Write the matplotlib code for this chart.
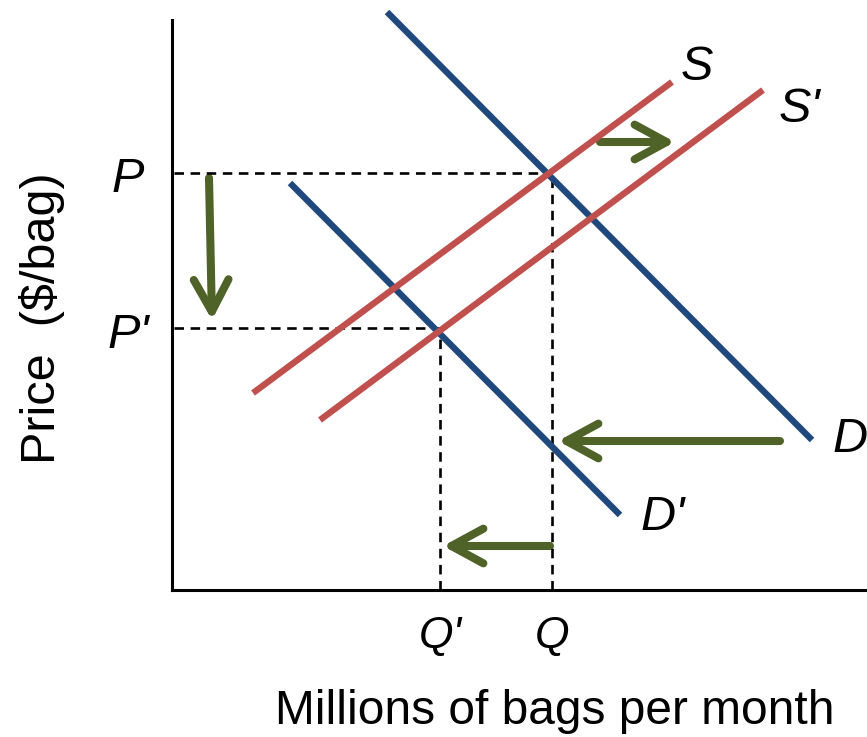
import matplotlib.pyplot as plt
from matplotlib.patches import FancyArrowPatch

plt.rcParams['font.family'] = ['Liberation Sans', 'DejaVu Sans']

# curve end points (quantity, price) in chart units
demand_q = [215, 640]
demand_p = [578, 150]
demand2_q = [118, 448]
demand2_p = [407, 75]
supply_q = [81, 500]
supply_p = [197, 508]
supply2_q = [148, 591]
supply2_p = [170, 500]

# equilibrium values
P, P2 = 417, 262
Q, Q2 = 380, 268

# shift arrows: (start, end)
arrows = [
    ((37, 412), (40, 270)),    # price falls
    ((428, 448), (503, 448)),  # supply shifts right
    ((608, 149), (386, 149)),  # demand shifts left
    ((378, 44), (271, 44)),    # quantity falls
]

# curve labels
curve_labels = ['S', "S'", 'D', "D'"]
curve_label_pos = [(525, 523), (607, 480), (660, 150), (469, 73)]

blue = '#1f497d'
red = '#c0504d'
green = '#4f6228'

fig = plt.figure(figsize=(8.67, 7.37), dpi=100)
ax = fig.add_axes([172 / 867, 147 / 737, 695 / 867, 580 / 737])
ax.set_xlim(0, 695)
ax.set_ylim(0, 580)
ax.patch.set_visible(False)

for side in ['top', 'right']:
    ax.spines[side].set_visible(False)
ax.spines['left'].set_bounds(0, 570)
ax.spines['left'].set_linewidth(2.2)
ax.spines['bottom'].set_linewidth(2.2)
ax.set_xticks([])
ax.set_yticks([])

# dashed guide lines
dash = dict(color='black', lw=1.9, dashes=(3.6, 2.5))
ax.plot([2, Q], [P, P], **dash)
ax.plot([Q, Q], [0, P], **dash)
ax.plot([2, Q2], [P2, P2], **dash)
ax.plot([Q2, Q2], [0, P2], **dash)

# curves
ax.plot(demand_q, demand_p, color=blue, lw=4.6, solid_capstyle='butt')
ax.plot(demand2_q, demand2_p, color=blue, lw=4.6, solid_capstyle='butt')
ax.plot(supply_q, supply_p, color=red, lw=4.6, solid_capstyle='butt')
ax.plot(supply2_q, supply2_p, color=red, lw=4.6, solid_capstyle='butt')

# shift arrows
for start, end in arrows:
    arr = FancyArrowPatch(start, end, arrowstyle='->,head_length=2.3,head_width=1.25',
                          mutation_scale=10, color=green, lw=5.8,
                          capstyle='round', joinstyle='round', shrinkA=0, shrinkB=0)
    ax.add_patch(arr)

# curve labels
for lab, (x, y) in zip(curve_labels, curve_label_pos):
    ha = 'center' if lab == 'S' else 'left'
    ax.text(x, y, lab, fontsize=35, style='italic', ha=ha, va='center', clip_on=False)

# price / quantity labels
ax.text(-44, 410, 'P', fontsize=35, style='italic', ha='center', va='center', clip_on=False)
ax.text(-44, 255, "P'", fontsize=35, style='italic', ha='center', va='center', clip_on=False)
ax.text(Q2, -47, "Q'", fontsize=32, style='italic', ha='center', va='center', clip_on=False)
ax.text(Q, -47, 'Q', fontsize=32, style='italic', ha='center', va='center', clip_on=False)

# axis titles
fig.text(555 / 867, 1 - 712 / 737, 'Millions of bags per month', fontsize=34.5,
         ha='center', va='center')
fig.text(42 / 867, 1 - 318 / 737, 'Price  ($/bag)', fontsize=35, rotation=90,
         ha='center', va='center')

fig.savefig('out.png', dpi=100)
